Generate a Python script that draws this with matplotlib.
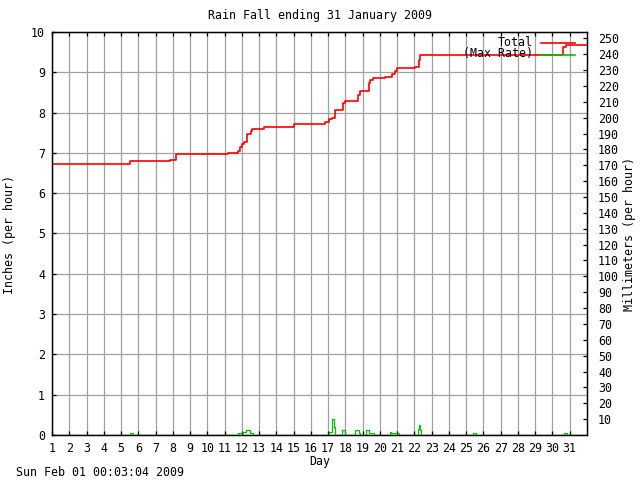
import matplotlib
matplotlib.use("Agg")
import matplotlib.pyplot as plt
from matplotlib.lines import Line2D

# Total rainfall (inches), cumulative, step series (day, value)
total_days = [1.0, 5.53, 7.85, 8.20, 11.20, 11.75, 11.87, 12.01, 12.14, 12.30, 12.53, 12.59,
              13.26, 15.00, 15.74, 16.84, 17.03, 17.23, 17.38, 17.42, 17.87, 18.00,
              18.72, 18.83, 19.35, 19.45, 19.61, 20.32, 20.71, 20.90, 21.00, 22.06,
              22.26, 22.35, 30.59, 30.77, 32.0]
total_vals = [6.72, 6.79, 6.83, 6.97, 7.00, 7.05, 7.14, 7.22, 7.28, 7.46, 7.55, 7.59,
              7.64, 7.71, 7.72, 7.77, 7.84, 7.87, 7.97, 8.06, 8.23, 8.29,
              8.44, 8.54, 8.73, 8.81, 8.85, 8.89, 8.97, 9.03, 9.10, 9.14,
              9.31, 9.43, 9.62, 9.68, 9.68]

# Max rate (inches per hour), step series
rate_days = [1.0, 5.50, 5.70, 11.79, 11.97, 12.08, 12.26, 12.46, 12.66,
             17.07, 17.22, 17.33, 17.42, 17.83, 18.00,
             18.58, 18.76, 18.87, 19.22, 19.34, 19.63,
             20.56, 20.67, 21.08, 22.18, 22.27, 22.35, 22.41,
             25.37, 25.55, 30.65, 30.83, 32.0]
rate_vals = [0, 0.04, 0, 0.06, 0.04, 0.07, 0.12, 0.05, 0,
             0.08, 0.40, 0.20, 0, 0.12, 0,
             0.12, 0.06, 0, 0.12, 0.06, 0,
             0.07, 0.04, 0, 0.15, 0.25, 0.12, 0,
             0.04, 0, 0.04, 0, 0]

day_ticks = list(range(1, 32))
inch_ticks = list(range(0, 11))
mm_ticks = list(range(10, 251, 10))

FONT = "DejaVu Sans Mono"
FS = 8.4
plt.rcParams['font.family'] = FONT

W, H = 640, 480
fig = plt.figure(figsize=(6.4, 4.8), dpi=100)
ax = fig.add_axes([52 / W, 1 - 435 / H, (587 - 52) / W, (435 - 32) / H])

ax.set_xlim(1, 32)
ax.set_ylim(0, 10)
ax.set_xticks(day_ticks)
ax.set_yticks(inch_ticks)
ax.grid(True, color="#a0a0a0", linewidth=0.9)
ax.set_axisbelow(True)
ax.tick_params(axis="x", direction="in", length=3, width=0.9, top=True, labelsize=FS, pad=5)
ax.tick_params(axis="y", direction="in", length=3, width=0.9, right=False, labelsize=FS, pad=5)
for s in ax.spines.values():
    s.set_linewidth(0.9)

ax.step(rate_days, rate_vals, where="post", color="#00c000", linewidth=0.9, zorder=3)
ax.step(total_days, total_vals, where="post", color="#ff0000", linewidth=1.2, zorder=4)

ax2 = ax.twinx()
ax2.set_ylim(0, 254)
ax2.set_yticks(mm_ticks)
ax2.tick_params(axis="y", direction="in", length=3, width=0.9, labelsize=FS, pad=8)
for s in ax2.spines.values():
    s.set_linewidth(0.9)

def fx(x):
    return x / W

def fy(y):
    return 1 - y / H

fig.text(fx(320), fy(16), "Rain Fall ending 31 January 2009", ha="center", va="center", fontsize=FS)
fig.text(fx(320), fy(462), "Day", ha="center", va="center", fontsize=FS)
fig.text(fx(16), fy(472), "Sun Feb 01 00:03:04 2009", ha="left", va="center", fontsize=FS)
fig.text(fx(10), fy(234), "Inches (per hour)", ha="center", va="center", rotation=90, fontsize=FS)
fig.text(fx(629), fy(234), "Millimeters (per hour)", ha="center", va="center", rotation=90, fontsize=FS)

# legend
fig.text(fx(533), fy(42), "Total", ha="right", va="center", fontsize=FS)
fig.text(fx(533), fy(54), "(Max Rate)", ha="right", va="center", fontsize=FS)
fig.add_artist(Line2D([fx(541), fx(575)], [fy(42.5), fy(42.5)], color="#ff0000", linewidth=1.2))
fig.add_artist(Line2D([fx(541), fx(575)], [fy(54.5), fy(54.5)], color="#00c000", linewidth=1.2))

fig.savefig("out.png", dpi=100)
